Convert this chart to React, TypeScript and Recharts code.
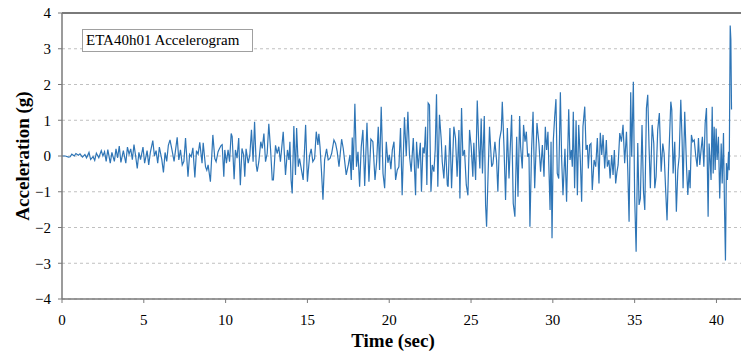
import React from 'react';
import { LineChart, Line, XAxis, YAxis, CartesianGrid, ReferenceLine } from 'recharts';

const chartTitle = 'ETA40h01 Accelerogram';
const xTicks = [0, 5, 10, 15, 20, 25, 30, 35, 40];
const yTicks = [-4, -3, -2, -1, 0, 1, 2, 3, 4];

// [time (sec), acceleration (g)]
const seg0to7: [number, number][] = [
  [0, 0], [0.2, 0], [0.4, -0.03], [0.5, -0.02], [0.6, 0.05], [0.75, 0.0], [0.85, 0.07], [1.0, 0.02], [1.1, 0.06],
  [1.25, -0.03], [1.4, 0.04], [1.5, -0.05], [1.65, 0.1], [1.75, -0.1], [1.9, -0.02], [2.0, -0.12], [2.1, 0.08],
  [2.25, -0.05], [2.4, 0.15], [2.5, 0.0], [2.6, 0.12], [2.7, -0.15], [2.8, 0.18], [2.95, -0.2], [3.05, 0.1],
  [3.2, -0.15], [3.3, 0.2], [3.4, -0.05], [3.5, 0.28], [3.6, -0.18], [3.75, 0.15], [3.9, -0.2], [4.0, 0.25],
  [4.1, 0.05], [4.2, 0.2], [4.3, -0.1], [4.4, 0.32], [4.5, 0.0], [4.6, -0.35], [4.7, 0.1], [4.8, -0.1],
  [4.95, 0.25], [5.05, -0.2], [5.2, 0.15], [5.3, -0.25], [5.4, 0.1], [5.55, 0.43], [5.65, 0.0], [5.75, 0.15],
  [5.85, -0.2], [5.95, 0.25], [6.1, -0.1], [6.2, -0.46], [6.3, 0.1], [6.4, -0.15], [6.5, 0.3], [6.6, 0.45],
];

const seg7to14: [number, number][] = [
  [6.73, 0.15], [6.85, -0.15], [7.04, 0.52], [7.14, -0.11], [7.24, 0.17], [7.35, -0.25], [7.45, -0.15], [7.55, 0.5],
  [7.7, -0.58], [7.8, 0.05], [7.9, -0.02], [8.0, 0.23], [8.12, -0.6], [8.22, 0.15], [8.32, 0.05], [8.42, 0.38],
  [8.56, -0.2], [8.63, 0.37], [8.77, -0.3], [8.85, -0.4], [8.93, -0.25], [9.07, -0.72], [9.22, 0.59], [9.34, -0.07],
  [9.42, -0.16], [9.54, 0.12], [9.62, 0.2], [9.73, 0.3], [9.79, 0.32], [9.89, -0.58], [9.95, 0.17], [10.05, -0.2],
  [10.15, 0.17], [10.24, -0.16], [10.34, 0.63], [10.4, 0.54], [10.52, -0.65], [10.6, 0.17], [10.7, -0.06],
  [10.8, 0.5], [10.9, -0.82], [11.0, 0.21], [11.1, 0.03], [11.17, -0.58], [11.25, 0.2], [11.38, -0.2], [11.48, 0.03],
  [11.58, 0.73], [11.68, -0.16], [11.77, 0.96], [11.87, -0.25], [11.93, -0.44], [12.03, -0.16], [12.15, 0.4],
  [12.24, 0.21], [12.34, 0.63], [12.44, -0.16], [12.54, 0.07], [12.64, 0.9], [12.75, 0.17], [12.85, -0.67],
  [12.92, -0.67], [13.05, 0.3], [13.15, 0.07], [13.25, 0.26], [13.35, -0.16], [13.52, 0.68], [13.66, -0.53],
];

const seg14to20: [number, number][] = [
  [13.78, 0.17], [13.87, -0.11], [13.93, 0.4], [14.0, -0.67], [14.07, -1.05], [14.17, 0.84], [14.27, -0.53],
  [14.34, 0.78], [14.44, -0.3], [14.52, -0.07], [14.64, -0.4], [14.74, -0.67], [14.89, 0.87], [15.0, -0.72],
  [15.13, 0.0], [15.23, 0.2], [15.33, -0.16], [15.44, -0.07], [15.54, 0.68], [15.64, 0.31], [15.7, 0.62],
  [15.77, 0.26], [15.85, -0.35], [15.95, -1.22], [16.05, -0.11], [16.17, 0.2], [16.27, -0.11], [16.38, -0.07],
  [16.48, 0.07], [16.62, 0.45], [16.72, 0.35], [16.82, 0.12], [16.93, -0.3], [17.09, 0.47], [17.19, 0.21],
  [17.29, -0.2], [17.37, -0.53], [17.5, -0.25], [17.6, 0.03], [17.68, -0.67], [17.74, 0.52], [17.8, -0.39],
  [17.9, 1.46], [18.0, -0.3], [18.09, 0.12], [18.19, -0.86], [18.29, 0.26], [18.39, 0.73], [18.5, -0.84],
  [18.64, 0.93], [18.76, -0.72], [18.88, 0.47], [19.0, 0.4], [19.13, -0.67], [19.23, -0.16], [19.33, 0.82],
  [19.41, -0.39], [19.51, 1.38], [19.62, -0.49], [19.72, -0.9], [19.82, 0.4], [19.92, -0.19], [20.01, 0.03],
  [20.1, -0.37], [20.19, 0.17], [20.29, 0.4], [20.39, -0.67],
];

const seg20to27: [number, number][] = [
  [20.49, -0.39], [20.59, -0.3], [20.69, 0.78], [20.79, -1.1], [20.93, 1.08], [21.04, 0.0], [21.14, 1.24],
  [21.24, 0.0], [21.34, -0.44], [21.47, 0.5], [21.61, -1.1], [21.67, 0.4], [21.77, -0.35], [21.9, 0.37],
  [21.97, -1.0], [22.06, 0.24], [22.14, 0.07], [22.22, 0.82], [22.3, -0.81], [22.38, 1.48], [22.46, 1.43],
  [22.55, -1.0], [22.63, -0.25], [22.73, -0.44], [22.81, 0.17], [22.89, 1.73], [22.97, -0.86], [23.07, 1.15],
  [23.18, 0.45], [23.24, -0.16], [23.34, -0.63], [23.44, 0.3], [23.55, -0.81], [23.6, -0.86], [23.71, 0.78],
  [23.81, -0.9], [23.95, 0.82], [24.05, 0.5], [24.15, -0.58], [24.26, 0.73], [24.32, -1.19], [24.42, 1.34],
  [24.5, 0.0], [24.6, 0.17], [24.71, -0.81], [24.81, -1.1], [24.91, 0.73], [25.01, 0.26], [25.11, -0.58],
  [25.17, 0.37], [25.28, -0.67], [25.38, 1.55], [25.48, 0.21], [25.54, -0.35], [25.62, 1.05], [25.7, -0.49],
  [25.81, 1.12], [25.89, -1.37], [25.95, -1.98], [26.05, -0.39], [26.13, 0.82], [26.26, -0.3], [26.34, -0.21],
  [26.46, 0.4], [26.56, -0.11], [26.64, -1.0], [26.74, 0.45], [26.85, 0.73], [26.91, 1.52],
];

const seg27to34: [number, number][] = [
  [27.01, 0.31], [27.11, -1.23], [27.22, 0.78], [27.32, -0.63], [27.48, 1.15], [27.58, -1.33], [27.68, -1.7],
  [27.79, 0.54], [27.87, -1.14], [27.97, 1.12], [28.03, 0.26], [28.13, -0.35], [28.21, 0.87], [28.3, 0.4],
  [28.38, 0.68], [28.46, -0.02], [28.54, 0.07], [28.6, -1.98], [28.7, 0.17], [28.79, 1.24], [28.89, -0.9],
  [29.03, 0.92], [29.15, 0.35], [29.25, -0.44], [29.36, 0.31], [29.46, -0.58], [29.54, 0.82], [29.62, 0.17],
  [29.7, 0.68], [29.83, -1.51], [29.89, 0.4], [29.95, -2.3], [30.03, 0.45], [30.11, 1.08], [30.19, 1.59],
  [30.27, -0.49], [30.36, -0.63], [30.46, 1.78], [30.54, -0.11], [30.62, -1.1], [30.74, 0.2], [30.84, -1.28],
  [30.97, 1.31], [31.05, -0.11], [31.13, 0.17], [31.19, -0.3], [31.25, 1.24], [31.33, -0.9], [31.42, 1.0],
  [31.5, -1.1], [31.58, 0.87], [31.68, -0.11], [31.76, -1.28], [31.84, 0.82], [31.95, 1.38], [32.03, 0.17],
  [32.11, 0.31], [32.17, -0.35], [32.25, 0.31], [32.33, 0.35], [32.41, -0.95], [32.52, -0.11], [32.62, -0.3],
  [32.72, 0.5], [32.82, -0.77], [32.9, 0.65], [32.99, 0.03], [33.07, 0.59], [33.17, -0.35], [33.27, 0.45],
  [33.33, -0.3], [33.43, -0.11], [33.5, -0.63], [33.6, 0.03], [33.68, -0.53], [33.76, 0.17], [33.84, -0.77],
  [33.92, -0.44],
];

const seg34to41: [number, number][] = [
  [33.99, -0.25], [34.09, 0.64], [34.19, 0.4], [34.29, 0.87], [34.39, -0.2], [34.5, 0.68], [34.58, -0.39],
  [34.66, -1.84], [34.76, 1.78], [34.82, -0.02], [34.92, 2.08], [35.0, -1.14], [35.09, -2.68], [35.19, 0.36],
  [35.27, -1.37], [35.35, -1.19], [35.45, 0.87], [35.54, -1.0], [35.62, -1.51], [35.72, 1.34], [35.8, 1.71],
  [35.88, 0.26], [35.96, -0.9], [36.07, 0.87], [36.17, 0.35], [36.23, -0.9], [36.31, -0.58], [36.41, 0.73],
  [36.51, 1.2], [36.62, -0.44], [36.72, 0.35], [36.8, 0.07], [36.9, -1.0], [36.98, -1.8], [37.09, -0.02],
  [37.21, 1.52], [37.27, 1.29], [37.35, -0.49], [37.45, 0.4], [37.55, -1.56], [37.64, -0.39], [37.72, -0.02],
  [37.82, 1.57], [37.9, 0.45], [37.96, -0.9], [38.06, 1.24], [38.17, -0.3], [38.25, -1.09], [38.33, -0.39],
  [38.39, -0.9], [38.47, 0.59], [38.55, 0.4], [38.64, 0.45], [38.74, -0.02], [38.82, -0.3], [38.9, 0.5],
  [38.98, -0.25], [39.06, 0.17], [39.14, 0.54], [39.23, -0.3], [39.31, 0.92], [39.39, 1.34], [39.45, -0.49],
  [39.49, -1.7], [39.55, 0.35], [39.61, -0.11], [39.67, -0.67], [39.74, 1.38], [39.8, -0.49], [39.86, 0.82],
  [39.92, -0.39], [39.98, 0.77], [40.04, -0.11], [40.12, 0.54], [40.2, -1.19], [40.29, 0.35], [40.35, -0.77],
  [40.43, 0.64], [40.49, -1.4], [40.55, -2.92], [40.61, -0.2], [40.67, -0.67], [40.74, 0.12], [40.78, -0.4],
  [40.84, 3.65], [40.88, 3.25], [40.92, 1.3],
];

const data = [...seg0to7, ...seg7to14, ...seg14to20, ...seg20to27, ...seg27to34, ...seg34to41].map(([t, a]) => ({ t, a }));

const FONT = "'Liberation Serif', 'Times New Roman', Times, serif";
const fmtY = (v: number) => (v < 0 ? '\u2212' + Math.abs(v) : String(v));

export default function App() {
  return (
    <div
      style={{
        position: 'absolute',
        left: 0,
        top: 0,
        width: 741,
        height: 354,
        background: '#fff',
        fontFamily: FONT,
      }}
    >
      <LineChart
        width={741}
        height={354}
        data={data}
        margin={{ top: 13, right: 0, bottom: 25, left: 0 }}
        style={{ fontFamily: FONT }}
      >
        <CartesianGrid vertical={false} stroke="#c0c0c0" strokeDasharray="3 3" />
        <XAxis
          type="number"
          dataKey="t"
          domain={[0, 41.5]}
          ticks={xTicks}
          interval={0}
          height={30}
          tickSize={4}
          tickMargin={11}
          axisLine={{ stroke: '#7a7a7a', strokeWidth: 1.5 }}
          tickLine={{ stroke: '#7a7a7a' }}
          tick={{ fill: '#000', fontSize: 15, fontFamily: FONT, style: { fontFamily: FONT } }}
          label={{
            content: () => (
              <text
                x={393}
                y={347}
                textAnchor="middle"
                fontWeight="bold"
                fontSize={19}
                fill="#000"
                style={{ fontFamily: FONT }}
              >
                Time (sec)
              </text>
            ),
          }}
        />
        <YAxis
          type="number"
          domain={[-4, 4]}
          ticks={yTicks}
          interval={0}
          width={62}
          tickSize={4}
          tickMargin={7}
          tickFormatter={fmtY}
          axisLine={{ stroke: '#7a7a7a', strokeWidth: 1.5 }}
          tickLine={{ stroke: '#7a7a7a' }}
          tick={{ fill: '#000', fontSize: 15, fontFamily: FONT, style: { fontFamily: FONT } }}
          label={{
            content: () => (
              <text
                x={22}
                y={156}
                transform="rotate(-90 22 156)"
                textAnchor="middle"
                dominantBaseline="central"
                fontWeight="bold"
                fontSize={19}
                fill="#000"
                style={{ fontFamily: FONT }}
              >
                Acceleration (g)
              </text>
            ),
          }}
        />
        <ReferenceLine y={4} stroke="#7a7a7a" strokeWidth={2} />
        <Line
          type="linear"
          dataKey="a"
          stroke="#2E75B6"
          strokeWidth={1.2}
          dot={false}
          isAnimationActive={false}
        />
      </LineChart>
      <div
        style={{
          position: 'absolute',
          left: 82,
          top: 29,
          width: 166,
          height: 21,
          border: '1px solid #a0a0a0',
          background: '#fff',
          fontSize: 15,
          lineHeight: '21px',
          paddingLeft: 3,
          color: '#000',
          whiteSpace: 'nowrap',
        }}
      >
        {chartTitle}
      </div>
    </div>
  );
}
